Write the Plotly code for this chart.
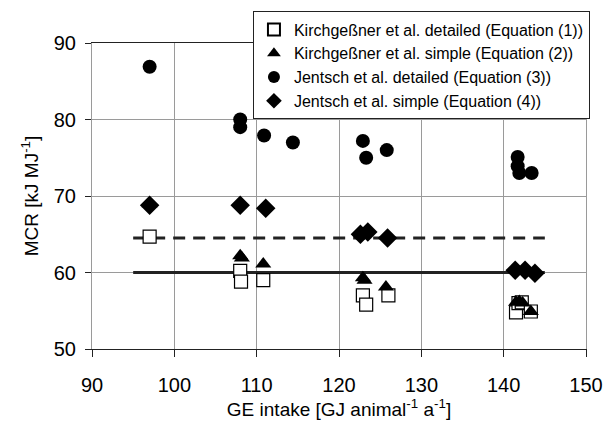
import plotly.graph_objects as go

# Kirchgeßner et al. detailed (Equation (1))
kd_x = [97.0, 108.0, 108.1, 110.8, 122.9, 123.3, 126.0, 141.5, 141.8, 142.2, 143.3]
kd_y = [64.7, 60.2, 58.8, 59.0, 57.0, 55.8, 57.0, 54.8, 56.0, 56.1, 54.9]
# Kirchgeßner et al. simple (Equation (2))
ks_x = [97.0, 108.0, 108.2, 110.8, 122.9, 123.1, 125.7, 141.5, 141.9, 142.3, 143.3]
ks_y = [69.0, 62.2, 61.9, 61.1, 59.3, 59.0, 58.1, 56.1, 56.2, 56.0, 54.9]
# Jentsch et al. detailed (Equation (3))
jd_x = [97.0, 108.0, 108.0, 110.9, 114.4, 122.9, 123.3, 125.8, 141.7, 141.7, 141.9, 143.4]
jd_y = [86.9, 80.0, 79.0, 77.9, 77.0, 77.2, 75.0, 76.0, 75.1, 73.9, 73.0, 73.0]
# Jentsch et al. simple (Equation (4))
js_x = [97.0, 108.0, 111.1, 122.6, 123.5, 125.9, 141.4, 142.6, 143.8]
js_y = [68.8, 68.8, 68.4, 65.0, 65.3, 64.5, 60.3, 60.3, 59.9]

# reference lines
line_x = [95, 145]
solid_y = [60.0, 60.0]
dash_y = [64.5, 64.5]

x_ticks = [90, 100, 110, 120, 130, 140, 150]
y_ticks = [50, 60, 70, 80, 90]

fig = go.Figure()
fig.add_trace(go.Scatter(x=line_x, y=solid_y, mode="lines", showlegend=False,
                         line=dict(color="#222222", width=3), hoverinfo="skip"))
fig.add_trace(go.Scatter(x=line_x, y=dash_y, mode="lines", showlegend=False,
                         line=dict(color="#222222", width=3, dash="12px,8px"), hoverinfo="skip"))

fig.add_trace(go.Scatter(x=kd_x, y=kd_y, mode="markers",
                         name="Kirchgeßner et al. detailed (Equation (1))",
                         marker=dict(symbol="square", size=13, color="white",
                                     line=dict(color="black", width=1.2))))
fig.add_trace(go.Scatter(x=ks_x, y=ks_y, mode="markers",
                         name="Kirchgeßner et al. simple (Equation (2))",
                         marker=dict(symbol="triangle-up", size=14, color="black",
                                     line=dict(color="black", width=0))))
fig.add_trace(go.Scatter(x=jd_x, y=jd_y, mode="markers",
                         name="Jentsch et al. detailed (Equation (3))",
                         marker=dict(symbol="circle", size=14, color="black",
                                     line=dict(color="black", width=0))))
fig.add_trace(go.Scatter(x=js_x, y=js_y, mode="markers",
                         name="Jentsch et al. simple (Equation (4))",
                         marker=dict(symbol="diamond", size=15, color="black",
                                     line=dict(color="black", width=0))))

font_family = "Liberation Sans, Arial, sans-serif"
fig.update_layout(
    width=616, height=423,
    margin=dict(l=92, r=30, t=41, b=71),
    paper_bgcolor="white", plot_bgcolor="white",
    font=dict(family=font_family, color="black", size=20),
    xaxis=dict(range=[90, 150], tickvals=x_ticks, showgrid=True, gridcolor="#9a9a9a",
               gridwidth=1, showline=True, linecolor="#222222", linewidth=1.2, mirror=True,
               ticks="outside", ticklen=7, tickcolor="#222222", zeroline=False,
               ticklabelstandoff=11,
               title=dict(text="GE intake [GJ animal<sup>-1</sup> a<sup>-1</sup>]",
                          font=dict(size=19), standoff=2)),
    yaxis=dict(range=[50, 90], tickvals=y_ticks, showgrid=True, gridcolor="#9a9a9a",
               gridwidth=1, showline=True, linecolor="#9a9a9a", linewidth=1, mirror=True,
               ticks="outside", ticklen=6, tickcolor="#222222", zeroline=False,
               ticklabelstandoff=5,
               title=dict(text="MCR [kJ MJ<sup>-1</sup>]", font=dict(size=19), standoff=10)),
    legend=dict(x=1.008, y=1.103, xanchor="right", yanchor="top",
                bgcolor="white", bordercolor="#222222", borderwidth=1,
                font=dict(size=16), itemsizing="constant", tracegroupgap=0),
    showlegend=True,
)

fig.write_html("out.html")
